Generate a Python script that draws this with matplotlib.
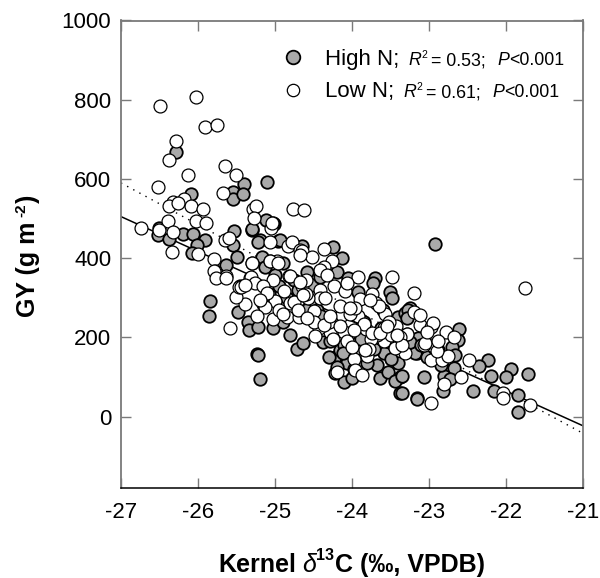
import matplotlib
matplotlib.use("Agg")
import matplotlib.pyplot as plt

plt.rcParams['font.family'] = ['Liberation Sans', 'DejaVu Sans']
plt.rcParams['axes.unicode_minus'] = False

# values
high_x = [-26.29, -26.09, -25.40, -25.10, -25.55, -25.55, -25.41, -26.51, -26.52, -26.38, -26.19, -26.06,
          -25.91, -26.01, -26.08, -25.53, -25.55, -25.49, -25.64, -25.30, -25.12, -25.20, -25.01, -24.96,
          -25.17, -25.13, -24.90, -25.00, -25.84, -25.86, -25.48, -25.35, -25.34, -25.24, -25.22, -25.19,
          -24.80, -24.71, -24.64, -24.25, -24.13, -24.58, -24.19, -24.65, -24.94, -25.30, -25.22, -25.02,
          -23.51, -23.48, -23.70, -23.73, -24.05, -23.38, -23.16, -24.22, -24.16, -24.22, -24.11, -24.00,
          -24.07, -23.64, -23.53, -23.38, -23.44, -23.40, -23.68, -23.59, -23.70, -23.16, -23.25, -23.40,
          -23.31, -23.14, -24.38, -25.22, -25.03, -24.90, -24.52, -24.42, -23.92, -22.92, -22.61, -22.62,
          -22.70, -22.66, -22.68, -22.24, -22.35, -22.20, -21.93, -22.00, -21.72, -21.84, -21.85, -22.16,
          -22.43, -22.81, -22.73, -22.82, -23.06, -23.16, -23.35, -23.35, -23.18, -23.27, -23.29, -23.25,
          -22.88, -24.85, -24.75, -24.55, -24.45, -24.32, -24.28, -24.18, -24.10, -24.02, -23.95, -23.85,
          -23.78, -23.62, -23.55, -23.45, -23.10, -23.02, -22.92, -22.85, -24.30, -24.20, -24.12, -23.98,
          -23.88, -23.80, -23.72, -24.60, -24.70, -24.95, -25.08, -25.15, -25.45, -24.40, -23.60, -23.50]
high_y = [669, 562, 588, 592, 567, 550, 562, 477, 459, 449, 461, 461,
          446, 434, 413, 469, 434, 403, 383, 472, 497, 446, 487, 444,
          403, 378, 388, 358, 291, 255, 263, 240, 219, 159, 156, 96,
          207, 171, 187, 429, 401, 366, 366, 431, 446, 474, 442, 489,
          315, 300, 350, 338, 350, 60, 48, 151, 169, 111, 88, 98,
          136, 98, 113, 101, 91, 136, 131, 161, 182, 161, 275, 252,
          262, 199, 189, 227, 224, 240, 333, 353, 315, 436, 222, 194,
          177, 156, 123, 144, 129, 102, 121, 99, 109, 55, 13, 66,
          66, 102, 96, 64, 101, 45, 60, 102, 161, 270, 250, 189,
          169, 300, 345, 290, 270, 230, 190, 250, 180, 210, 170, 240,
          205, 225, 190, 215, 180, 150, 170, 130, 150, 125, 160, 120,
          195, 135, 170, 270, 320, 330, 310, 285, 330, 255, 270, 145]

low_x = [-26.49, -26.03, -25.91, -25.75, -26.29, -26.38, -26.13, -26.52, -25.65, -25.51, -25.67, -24.76,
         -26.18, -26.33, -26.38, -26.09, -25.93, -26.26, -25.29, -25.25, -25.27, -26.39, -26.02, -25.89,
         -26.74, -26.51, -26.32, -26.34, -25.65, -25.60, -26.00, -25.79, -25.78, -25.30, -25.07, -25.05,
         -25.04, -24.83, -24.78, -25.06, -24.98, -25.63, -24.82, -24.62, -24.68, -25.58, -25.39, -25.51,
         -25.47, -25.79, -25.77, -25.64, -25.32, -24.65, -24.52, -24.37, -24.26, -24.37, -25.30, -25.06,
         -25.31, -25.03, -24.81, -25.26, -25.44, -24.88, -24.65, -24.42, -24.23, -24.09, -23.92, -23.48,
         -23.19, -23.74, -23.89, -23.69, -23.57, -23.92, -24.13, -23.20, -23.43, -23.29, -23.12, -23.59,
         -23.82, -24.10, -24.06, -24.29, -24.30, -24.43, -24.49, -24.42, -24.57, -24.81, -25.00, -25.13,
         -25.23, -25.02, -24.84, -24.69, -23.97, -23.81, -24.20, -23.96, -23.87, -23.31, -23.44, -23.59,
         -23.68, -24.96, -21.75, -22.98, -22.78, -22.68, -23.28, -22.97, -22.98, -22.83, -22.75, -22.48,
         -22.58, -22.80, -22.97, -22.04, -22.04, -21.69, -23.07, -22.95, -23.12, -24.95, -24.75, -24.60,
         -24.35, -24.15, -24.02, -23.85, -23.75, -23.65, -23.52, -23.38, -23.05, -22.90, -24.70, -24.50,
         -24.25, -24.00, -23.78, -25.15, -24.90, -23.50, -23.35, -22.88, -23.02, -24.60,
         -24.68, -24.68, -24.42, -24.33, -24.64, -25.11, -25.20, -25.39, -24.58, -24.48, -24.37, -24.16,
         -23.98, -23.74, -23.64, -23.55, -23.42, -24.07, -23.77, -23.96, -24.03, -24.29, -23.83]
low_y = [785, 808, 732, 737, 697, 648, 609, 581, 633, 611, 565, 525,
         550, 542, 532, 532, 525, 540, 525, 533, 502, 495, 495, 490,
         477, 472, 467, 416, 446, 450, 411, 399, 368, 388, 440, 477,
         490, 430, 440, 392, 392, 354, 356, 522, 421, 224, 285, 301,
         328, 368, 351, 351, 351, 419, 404, 424, 392, 378, 389, 393,
         352, 345, 356, 338, 328, 318, 329, 320, 331, 318, 352, 352,
         312, 310, 297, 288, 260, 255, 257, 263, 228, 208, 232, 192,
         221, 215, 190, 213, 238, 224, 268, 299, 299, 287, 292, 276,
         253, 247, 251, 251, 146, 152, 112, 119, 106, 160, 173, 224,
         207, 388, 324, 226, 213, 200, 208, 180, 144, 144, 154, 144,
         99, 82, 35, 60, 47, 30, 182, 237, 257, 270, 290, 310,
         300, 280, 260, 235, 195, 280, 240, 200, 185, 165, 270, 240,
         195, 175, 170, 330, 260, 205, 180, 190, 215, 345,
         409, 341, 371, 358, 308, 312, 295, 333, 250, 203, 232, 228,
         219, 211, 211, 228, 207, 337, 295, 274, 275, 253, 169]

line_x = [-27, -21]
high_fit = [505, -23]
low_fit = [590, -42]

x_ticks = [-27, -26, -25, -24, -23, -22, -21]
y_ticks = [0, 200, 400, 600, 800, 1000]

W, H = 600, 578
fig = plt.figure(figsize=(W / 100, H / 100), dpi=100)
ax = fig.add_axes([121 / W, 1 - 488 / H, (583 - 121) / W, (488 - 20.5) / H])


def px_text(x, y, s, **kw):
    # baseline position given in image pixels
    fig.text(x / W, 1 - y / H, s, va='baseline', ha='left', color='black', rotation_mode='anchor', **kw)


ax.plot(line_x, high_fit, color='black', lw=1.1, zorder=1)
ax.plot(line_x, low_fit, color='black', lw=1.0, ls=(0, (1, 4)), zorder=1)
ax.plot(high_x, high_y, 'o', ms=9.0, mfc='#a9a9a9', mec='black', mew=1.3, zorder=2)
ax.plot(low_x, low_y, 'o', ms=9.3, mfc='white', mec='black', mew=0.9, zorder=3)

ax.set_xlim(-27, -21)
ax.set_ylim(-180, 1000)
ax.set_xticks(x_ticks)
ax.set_yticks(y_ticks)
ax.tick_params(axis='both', direction='in', top=True, right=True, length=7, width=1.0,
               color='#7a7a7a', labelsize=16, pad=7)
ax.tick_params(axis='x', pad=10)
for side in ['left', 'right', 'top']:
    ax.spines[side].set_color('#7a7a7a')
    ax.spines[side].set_linewidth(1.3)
ax.spines['bottom'].set_color('black')
ax.spines['bottom'].set_linewidth(1.1)

ax.plot([0.373], [0.921], 'o', transform=ax.transAxes, ms=9.8, mfc='#a9a9a9', mec='black', mew=1.3, zorder=4)
ax.plot([0.373], [0.851], 'o', transform=ax.transAxes, ms=8.9, mfc='white', mec='black', mew=0.9, zorder=4)

px_text(325, 65, 'High N;', fontsize=16)
px_text(408, 65, 'R', fontsize=12.8, style='italic')
px_text(421, 58, '2', fontsize=7.5)
px_text(431, 65, '= 0.53;', fontsize=12.8)
px_text(497, 65, 'P', fontsize=12.8, style='italic')
px_text(509, 65, '<0.001', fontsize=12.8)

px_text(325, 97, 'Low N;', fontsize=16)
px_text(403, 97, 'R', fontsize=12.8, style='italic')
px_text(416, 90, '2', fontsize=7.5)
px_text(426, 97, '= 0.61;', fontsize=12.8)
px_text(492, 97, 'P', fontsize=12.8, style='italic')
px_text(504, 97, '<0.001', fontsize=12.8)

# x label pieces, the delta overlaps the superscript
px_text(218, 572, 'Kernel', fontsize=18, fontweight='bold')
px_text(302, 572, '\u03b4', fontsize=18, style='italic')
px_text(316, 560, '13', fontsize=11.5, fontweight='bold')
px_text(335, 572, 'C (\u2030, VPDB)', fontsize=18, fontweight='bold')

# y label pieces
px_text(35, 317, 'GY (g m', fontsize=18, fontweight='bold', rotation=90)
px_text(25, 217, '-2', fontsize=11, fontweight='bold', rotation=90)
px_text(35, 203, ')', fontsize=18, fontweight='bold', rotation=90)

fig.savefig('out.png', dpi=100)
